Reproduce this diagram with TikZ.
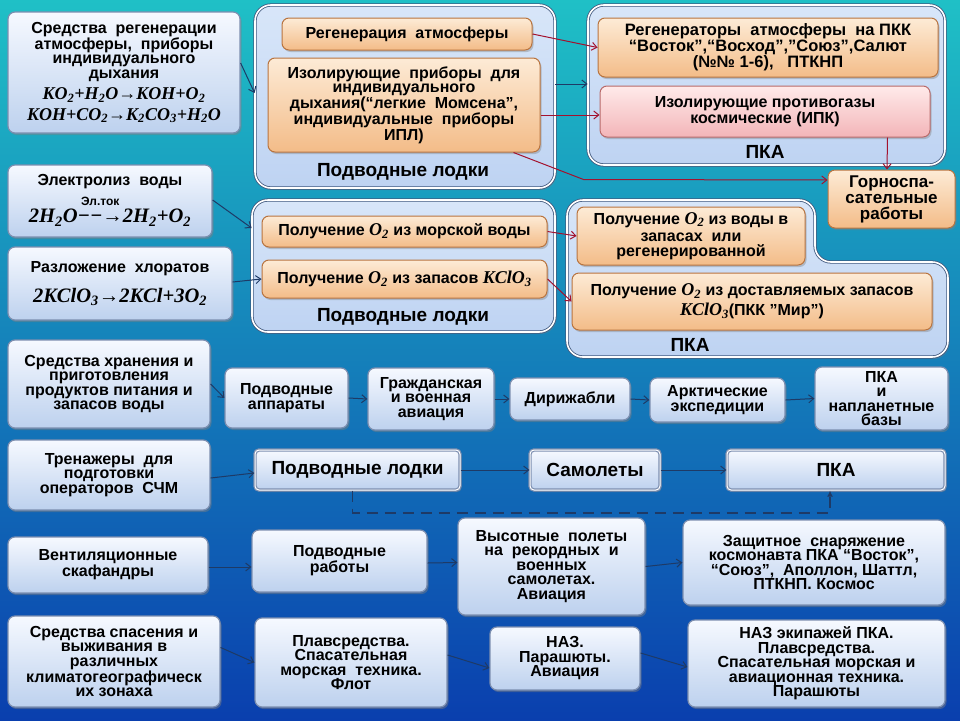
\documentclass[tikz,border=0pt]{standalone}
\usepackage{fontspec}
\setmainfont{Liberation Sans}
\newfontfamily\formfont{Liberation Serif}
\usetikzlibrary{shadows,arrows.meta}
\definecolor{bgtop}{HTML}{1FC0C6}
\definecolor{bgmid}{HTML}{1B9BDF}
\definecolor{bgbot}{HTML}{0A3FAE}
\definecolor{boxtop}{HTML}{F6F9FF}
\definecolor{boxbot}{HTML}{BDD1EE}
\definecolor{boxline}{HTML}{7D8FB0}
\definecolor{otop}{HTML}{FDEBD6}
\definecolor{obot}{HTML}{F3BC88}
\definecolor{oline}{HTML}{B87440}
\definecolor{ptop}{HTML}{FFEAEA}
\definecolor{pbot}{HTML}{F3B5B8}
\definecolor{pline}{HTML}{B86A6A}
\definecolor{gtop}{HTML}{D8E6F9}
\definecolor{gbot}{HTML}{BED3F2}
\definecolor{gline}{HTML}{40587E}
\definecolor{arrblue}{HTML}{1E3A66}
\definecolor{arrred}{HTML}{A3122E}
\newcommand{\chsub}[1]{\textsubscript{#1}}
\newcommand{\fml}[1]{{\formfont\bfseries\itshape\fontsize{18}{18}\selectfont #1}}
\newcommand{\fmlb}[1]{{\formfont\bfseries\itshape\fontsize{20.5}{20.5}\selectfont #1}}
\newcommand{\eltok}{\begin{tabular}[b]{@{}c@{}}{\fontsize{12}{12}\selectfont Эл.ток}\\[3pt]\fmlb{−−→}\end{tabular}}
\begin{document}
\begin{tikzpicture}[x=1pt,y=-1pt,
  every node/.style={inner sep=0pt, align=center, font=\bfseries\fontsize{16}{14.5}\selectfont, text=black},
  bx/.style n args={4}{minimum width={#3-#1}, minimum height={#4-#2}, at={({(#1+#3)/2},{(#2+#4)/2})}},
  bbox/.style={rounded corners=7pt, draw=boxline, line width=1.2pt, top color=boxtop, bottom color=boxbot,
     drop shadow={opacity=0.45, shadow xshift=1.5pt, shadow yshift=-2pt}},
  flatbox/.style={rounded corners=4pt, draw=boxline, line width=1.2pt, top color=boxtop, bottom color=boxbot,
     double=white, double distance=1pt, font=\bfseries\fontsize{19}{19}\selectfont,
     drop shadow={opacity=0.45, shadow xshift=1.5pt, shadow yshift=-2pt}},
  obox/.style={rounded corners=7pt, draw=oline, line width=1pt, top color=otop, bottom color=obot,
     drop shadow={opacity=0.4, shadow xshift=1.5pt, shadow yshift=-2pt}},
  pbox/.style={rounded corners=7pt, draw=pline, line width=1pt, top color=ptop, bottom color=pbot,
     drop shadow={opacity=0.4, shadow xshift=1.5pt, shadow yshift=-2pt}},
  grp/.style={rounded corners=16pt, draw=gline, line width=0.8pt, double=white, double distance=1.6pt,
     top color=gtop, bottom color=gbot, drop shadow={opacity=0.35, shadow xshift=1.5pt, shadow yshift=-2pt}},
  glabel/.style={font=\bfseries\fontsize{19}{19}\selectfont},
  arr/.style={draw=arrblue, line width=1pt, -{Straight Barb[length=5pt,width=8pt]}},
  rarr/.style={draw=arrred, line width=1pt, -{Straight Barb[length=5pt,width=8pt]}},
  darr/.style={draw=arrblue, line width=1.8pt, dash pattern=on 11pt off 7pt, -{Latex[length=6pt,width=6pt]}}
]
\useasboundingbox (0,0) rectangle (960,720);
\shade[top color=bgtop, middle color=bgmid, bottom color=bgbot] (0,0) rectangle (960,720);

% ---- groups
\node[grp, bx={255}{5}{555}{188}] (G1) {};
\node[grp, bx={588}{5}{945}{165}] (G2) {};
\node[grp, bx={252}{200}{555}{332}] (G3) {};
\path[grp] (567,200) -- (815,200) -- (815,262) -- (948,262) -- (948,357) -- (567,357) -- cycle;

\node[glabel] (L1) at (403,172) {Подводные лодки};
\node[glabel] (L2) at (765,152) {ПКА};
\node[glabel] (L3) at (403,317) {Подводные лодки};
\node[glabel] (L4) at (690,345) {ПКА};

% ---- top rows
\node[bbox, bx={8}{12}{240}{133}] (A) {Средства \ регенерации\\атмосферы, \ приборы\\индивидуального\\дыхания\\[5pt]
  \fml{KO\chsub{2}+H\chsub{2}O→KOH+O\chsub{2}}\\[5pt]\fml{KOH+CO\chsub{2}→K\chsub{2}CO\chsub{3}+H\chsub{2}O}};
\node[obox, bx={282}{18}{532}{50}] (R1) {Регенерация \ атмосферы};
\node[obox, bx={268}{58}{540}{152}] (I1) {Изолирующие \ приборы \ для\\индивидуального\\дыхания(“легкие \ Момсена”,\\индивидуальные \ приборы\\ИПЛ)};
\node[obox, bx={598}{18}{938}{77}, font=\bfseries\fontsize{16.5}{14.5}\selectfont] (R2) {Регенераторы \ атмосферы \ на ПКК\\“Восток”,“Восход”,”Союз”,Салют\\(№№ 1-6), \ \ ПТКНП};
\node[pbox, bx={600}{86}{930}{137}] (P2) {Изолирующие противогазы\\космические (ИПК)};
\node[obox, bx={828}{170}{955}{228}, font=\bfseries\fontsize{17}{16}\selectfont] (Gs) {Горноспа-\\сательные\\работы};

\node[bbox, bx={8}{165}{212}{237}] (E) {Электролиз \ воды\\[5pt]\fmlb{2H\chsub{2}O}\eltok\fmlb{2H\chsub{2}+O\chsub{2}}};
\node[bbox, bx={8}{247}{232}{320}] (H) {Разложение \ хлоратов\\[11pt]\fmlb{2KClO\chsub{3}→2KCl+3O\chsub{2}}};
\node[obox, bx={262}{216}{547}{247}] (M1) {Получение \fml{O\chsub{2}} из морской воды};
\node[obox, bx={262}{260}{547}{298}] (M2) {Получение \fml{O\chsub{2}} из запасов \fml{KClO\chsub{3}}};
\node[obox, bx={577}{207}{805}{265}] (W1) {Получение \fml{O\chsub{2}} из воды в\\[3pt]запасах \ или\\регенерированной};
\node[obox, bx={572}{273}{932}{330}] (W2) {Получение \fml{O\chsub{2}} из доставляемых запасов\\[3pt]\fml{KClO\chsub{3}}(ПКК ”Мир”)};

% ---- row 3
\node[bbox, bx={8}{340}{210}{428}] (S1) {Средства хранения и\\приготовления\\продуктов питания и\\запасов воды};
\node[bbox, bx={225}{368}{348}{428}] (S2) {Подводные\\аппараты};
\node[bbox, bx={368}{368}{494}{430}] (S3) {Гражданская\\и военная\\авиация};
\node[bbox, bx={510}{378}{630}{420}] (S4) {Дирижабли};
\node[bbox, bx={650}{378}{785}{422}] (S5) {Арктические\\экспедиции};
\node[bbox, bx={815}{367}{948}{430}] (S6) {ПКА\\и\\напланетные\\базы};

% ---- row 4
\node[bbox, bx={8}{440}{210}{510}] (T1) {Тренажеры \ для\\подготовки\\операторов \ СЧМ};
\node[flatbox, bx={255}{450}{460}{490}] (T2) {Подводные лодки};
\node[flatbox, bx={530}{450}{660}{490}] (T3) {Самолеты};
\node[flatbox, bx={727}{450}{945}{490}] (T4) {ПКА};

% ---- row 5
\node[bbox, bx={8}{537}{208}{593}] (V1) {Вентиляционные\\скафандры};
\node[bbox, bx={252}{530}{427}{592}] (V2) {Подводные\\работы};
\node[bbox, bx={458}{518}{645}{615}] (V3) {Высотные \ полеты\\на \ рекордных \ и\\военных\\самолетах.\\Авиация};
\node[bbox, bx={683}{520}{945}{605}] (V4) {Защитное \ снаряжение\\космонавта ПКА “Восток”,\\“Союз”, \ Аполлон, Шаттл,\\ПТКНП. Космос};

% ---- row 6
\node[bbox, bx={8}{616}{220}{707}] (X1) {Средства спасения и\\выживания в\\различных\\климатогеографическ\\их зонаха};
\node[bbox, bx={255}{618}{447}{707}] (X2) {Плавсредства.\\Спасательная\\морская \ техника.\\Флот};
\node[bbox, bx={490}{627}{640}{690}] (X3) {НАЗ.\\Парашюты.\\Авиация};
\node[bbox, bx={688}{620}{945}{707}] (X4) {НАЗ экипажей ПКА.\\Плавсредства.\\Спасательная морская и\\авиационная техника.\\Парашюты};

% ---- connectors
\draw[arr] ([yshift=9.5pt]A.east) -- ([yshift=3.5pt]G1.west);
\draw[rarr] (R1.east) -- (R2.west);
\draw[arr] ([yshift=12.5pt]G1.east) -- ([yshift=1pt]G2.west);
\draw[rarr] ([yshift=-10pt]I1.east) -- ([yshift=-3.5pt]P2.west);
\draw[rarr] ([xshift=-27pt]I1.south east) -- ++(70,27) -- ([yshift=19pt]Gs.west);
\draw[rarr] ([xshift=-43pt]P2.south east) -- ([xshift=-4.5pt]Gs.north);

\draw[arr] ([yshift=1pt]E.east) -- ([yshift=38pt]G3.west);
\draw[arr] ([yshift=1.5pt]H.east) -- (M2.west);
\draw[rarr] (M1.east) -- (W1.west);
\draw[rarr] (M2.east) -- (W2.west);

\draw[arr] (S1.east) -- (S2.west);
\draw[arr] (S2.east) -- (S3.west);
\draw[arr] (S3.east) -- (S4.west);
\draw[arr] (S4.east) -- (S5.west);
\draw[arr] (S5.east) -- (S6.west);

\draw[arr] ([yshift=-3pt]T1.east) -- ([yshift=-3pt]T2.west);
\draw[arr] (T2.east) -- (T3.west);
\draw[arr] (T3.east) -- (T4.west);
\draw[darr] ([xshift=-5pt]T2.south) -- ++(0,22) -| ([xshift=-6pt]T4.south);

\draw[arr] ([yshift=-2pt]V1.east) -- ([yshift=-6pt]V2.west);
\draw[arr] ([yshift=-2pt]V2.east) -- ([yshift=4pt]V3.west);
\draw[arr] (V3.east) -- (V4.west);

\draw[arr] ([yshift=14pt]X1.east) -- (X2.west);
\draw[arr] ([yshift=7.5pt]X2.east) -- ([yshift=-9.5pt]X3.west);
\draw[arr] ([yshift=5.5pt]X3.east) -- ([yshift=-3.5pt]X4.west);
\end{tikzpicture}
\end{document}
